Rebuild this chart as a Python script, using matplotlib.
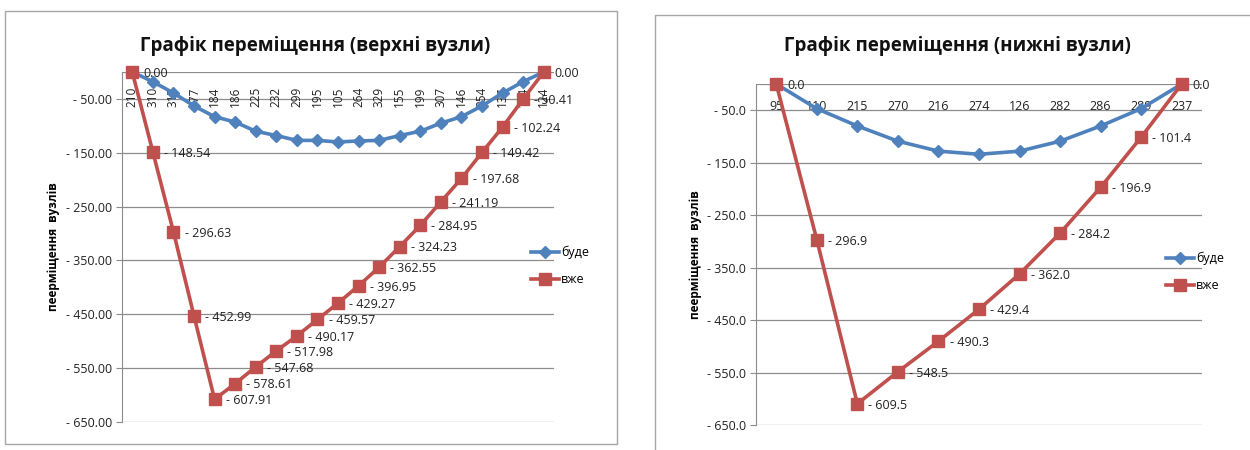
import matplotlib.pyplot as plt
from matplotlib.patches import Rectangle
from matplotlib.lines import Line2D

plt.rcParams['font.family'] = ['Open Sans', 'DejaVu Sans']

# ліва діаграма (верхні вузли)
cat_top = ['210', '310', '317', '177', '184', '186', '225', '232', '299', '195', '105',
           '264', '329', '155', '199', '307', '146', '254', '137', '134', '124']
bude_top = [0, -18, -39, -63, -83, -93, -110, -118, -127, -127, -130,
            -128, -127, -118, -110, -95, -83, -63, -39, -18, 0]
vzhe_top = [0.00, -148.54, -296.63, -452.99, -607.91, -578.61, -547.68, -517.98, -490.17,
            -459.57, -429.27, -396.95, -362.55, -324.23, -284.95, -241.19, -197.68,
            -149.42, -102.24, -50.41, 0.00]

# права діаграма (нижні вузли)
cat_bot = ['95', '110', '215', '270', '216', '274', '126', '282', '286', '289', '237']
bude_bot = [0, -47, -80, -109, -128, -134, -128, -109, -80, -47, 0]
vzhe_bot = [0.0, -296.9, -609.5, -548.5, -490.3, -429.4, -362.0, -284.2, -196.9, -101.4, 0.0]

y_ticks = [-50, -150, -250, -350, -450, -550, -650]

BLUE = '#4F81BD'
RED = '#C0504D'
GRID = '#8C8C8C'


def fmt(v, dec):
    s = f"{abs(v):.{dec}f}"
    return s if v >= 0 else "- " + s


def draw(ax, cats, bude, vzhe, dec, rot, title, title_x, legend_xy):
    x = list(range(len(cats)))
    ax.plot(x, bude, color=BLUE, lw=2.6, marker='D', ms=6, zorder=3, clip_on=False)
    ax.plot(x, vzhe, color=RED, lw=2.6, marker='s', ms=9, zorder=4, clip_on=False)
    for xi, v in zip(x, vzhe):
        ax.annotate(fmt(v, dec), (xi, v), xytext=(8, -1), textcoords='offset points',
                    ha='left', va='center', fontsize=9, color='#222222',
                    annotation_clip=False, zorder=5)
    ax.set_xlim(-0.5, len(cats) - 0.5)
    ax.set_ylim(-650, 0)
    ax.set_yticks(y_ticks)
    ax.set_yticklabels([fmt(t, dec) for t in y_ticks], fontsize=9, color='#222222')
    ax.set_xticks([])
    for t in y_ticks + [0]:
        ax.axhline(t, color=GRID, lw=0.9, zorder=1)
    for s in ['top', 'right', 'bottom']:
        ax.spines[s].set_visible(False)
    ax.spines['left'].set_color(GRID)
    ax.tick_params(axis='y', length=4, color=GRID, pad=3)
    # підписи категорій біля осі на рівні -50
    for xi, c in zip(x, cats):
        if rot:
            ax.text(xi, -47, c, rotation=90, ha='center', va='center', fontsize=8.5,
                    color='#222222', zorder=2)
        else:
            ax.text(xi, -50, c, ha='center', va='baseline', fontsize=9,
                    color='#222222', zorder=2)
    ax.set_ylabel('пеерміщення  вузлів', fontsize=8.5, fontweight='bold', labelpad=4)
    fig.text(title_x, 0.897, title, ha='center', va='center', fontsize=13.5,
             fontweight='bold', color='#111111')
    handles = [Line2D([], [], color=BLUE, lw=2.6, marker='D', ms=6),
               Line2D([], [], color=RED, lw=2.6, marker='s', ms=9)]
    ax.legend(handles, ['буде', 'вже'], loc='center left', bbox_to_anchor=legend_xy,
              bbox_transform=fig.transFigure, frameon=False, fontsize=9,
              handlelength=2.2, handletextpad=0.2, labelspacing=1.1)


fig = plt.figure(figsize=(12.5, 4.5), dpi=100)

# рамки діаграм
fig.add_artist(Rectangle((5 / 1250, 1 - 444 / 450), 612 / 1250, 433 / 450,
                         transform=fig.transFigure, fill=False, ec='#A6A6A6', lw=1))
fig.add_artist(Rectangle((655 / 1250, -0.02), 600 / 1250, 1 - 15 / 450 + 0.02,
                         transform=fig.transFigure, fill=False, ec='#A6A6A6', lw=1))

ax1 = fig.add_axes([122 / 1250, 1 - 422 / 450, 432 / 1250, 350 / 450])
draw(ax1, cat_top, bude_top, vzhe_top, 2, True,
     'Графік переміщення (верхні вузли)', 315 / 1250, (520 / 1250, 1 - 266 / 450))

ax2 = fig.add_axes([756 / 1250, 1 - 425 / 450, 446 / 1250, 341 / 450])
draw(ax2, cat_bot, bude_bot, vzhe_bot, 1, False,
     'Графік переміщення (нижні вузли)', 957 / 1250, (1155 / 1250, 1 - 272 / 450))

fig.savefig('out.png', dpi=100, facecolor='white')
